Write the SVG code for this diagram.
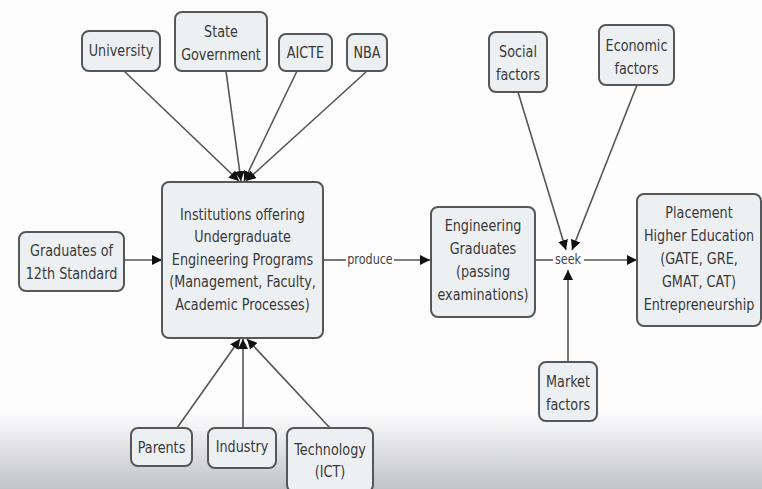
<svg xmlns="http://www.w3.org/2000/svg" width="762" height="489" viewBox="0 0 762 489">
<defs>
<linearGradient id="bg" x1="0" y1="0" x2="0" y2="1">
<stop offset="0" stop-color="#fdfdfe"/>
<stop offset="1" stop-color="#c2c3c7"/>
</linearGradient>
<marker id="ah" markerUnits="userSpaceOnUse" markerWidth="10" markerHeight="10" refX="10" refY="5" orient="auto" viewBox="0 0 10 10">
<path d="M0,0 L10,5 L0,10 z" fill="#111"/>
</marker>
<style>
.n{fill:#edf0f3;stroke:#575757;stroke-width:2}
.t{font-family:"DejaVu Sans","Liberation Sans",sans-serif;font-size:16px;fill:#383838;text-anchor:middle}
.l{font-family:"DejaVu Sans","Liberation Sans",sans-serif;font-size:14px;fill:#444;text-anchor:middle}
.c{fill:none;stroke:#555;stroke-width:1.6}
.a{marker-end:url(#ah)}
</style>
</defs>
<rect x="0" y="0" width="762" height="489" fill="#fdfdfe"/>
<rect x="0" y="412" width="762" height="77" fill="url(#bg)"/>

<g id="connectors">
<line class="c a" x1="124" y1="71" x2="239" y2="181"/>
<line class="c a" x1="226" y1="71" x2="241" y2="181"/>
<line class="c a" x1="297" y1="71" x2="244" y2="181"/>
<line class="c a" x1="366" y1="72" x2="246" y2="181"/>
<line class="c a" x1="177" y1="428" x2="240" y2="339"/>
<line class="c a" x1="243" y1="428" x2="243" y2="339"/>
<line class="c a" x1="330" y1="428" x2="247" y2="339"/>
<line class="c a" x1="124" y1="260" x2="162" y2="260"/>
<line class="c" x1="323" y1="260" x2="346" y2="260"/>
<line class="c a" x1="394" y1="260" x2="430" y2="260"/>
<text class="l" transform="translate(370 0) scale(0.8 1)" x="0" y="264">produce</text>
<line class="c" x1="535" y1="260" x2="553" y2="260"/>
<line class="c a" x1="584" y1="260" x2="637" y2="260"/>
<text class="l" transform="translate(568 0) scale(0.8 1)" x="0" y="264" fill="#666">seek</text>
<line class="c a" x1="518" y1="92" x2="566" y2="250"/>
<line class="c a" x1="637" y1="85" x2="572" y2="250"/>
<line class="c a" x1="568" y1="362" x2="568" y2="270"/>
</g>

<g id="university">
<rect class="n" x="82" y="31" width="78" height="40" rx="7"/>
<text class="t" transform="translate(121 0) scale(0.8 1)"><tspan x="0" y="56">University</tspan></text>
</g>
<g id="state-government">
<rect class="n" x="175" y="12" width="92" height="59" rx="7"/>
<text class="t" transform="translate(221 0) scale(0.8 1)"><tspan x="0" y="37">State</tspan><tspan x="0" y="60">Government</tspan></text>
</g>
<g id="aicte">
<rect class="n" x="279" y="34" width="53" height="37" rx="7"/>
<text class="t" transform="translate(305.5 0) scale(0.8 1)"><tspan x="0" y="58">AICTE</tspan></text>
</g>
<g id="nba">
<rect class="n" x="347" y="34" width="40" height="37" rx="7"/>
<text class="t" transform="translate(367 0) scale(0.8 1)"><tspan x="0" y="58">NBA</tspan></text>
</g>
<g id="institutions">
<rect class="n" x="162" y="182" width="161" height="156" rx="7"/>
<text class="t" transform="translate(242.5 0) scale(0.8 1)"><tspan x="0" y="220">Institutions offering</tspan><tspan x="0" y="242.5">Undergraduate</tspan><tspan x="0" y="265">Engineering Programs</tspan><tspan x="0" y="287.5">(Management, Faculty,</tspan><tspan x="0" y="310">Academic Processes)</tspan></text>
</g>
<g id="graduates-12th">
<rect class="n" x="19" y="232" width="105" height="59" rx="7"/>
<text class="t" transform="translate(71.5 0) scale(0.8 1)"><tspan x="0" y="256">Graduates of</tspan><tspan x="0" y="279">12th Standard</tspan></text>
</g>
<g id="engineering-graduates">
<rect class="n" x="431" y="207" width="104" height="110" rx="7"/>
<text class="t" transform="translate(483 0) scale(0.8 1)"><tspan x="0" y="231">Engineering</tspan><tspan x="0" y="254">Graduates</tspan><tspan x="0" y="277">(passing</tspan><tspan x="0" y="300">examinations)</tspan></text>
</g>
<g id="placement">
<rect class="n" x="637" y="194" width="124" height="132" rx="7"/>
<text class="t" transform="translate(699 0) scale(0.8 1)"><tspan x="0" y="218">Placement</tspan><tspan x="0" y="241">Higher Education</tspan><tspan x="0" y="264">(GATE, GRE,</tspan><tspan x="0" y="287">GMAT, CAT)</tspan><tspan x="0" y="310">Entrepreneurship</tspan></text>
</g>
<g id="social-factors">
<rect class="n" x="489" y="32" width="58" height="60" rx="7"/>
<text class="t" transform="translate(518 0) scale(0.8 1)"><tspan x="0" y="57">Social</tspan><tspan x="0" y="80">factors</tspan></text>
</g>
<g id="economic-factors">
<rect class="n" x="599" y="25" width="75" height="60" rx="7"/>
<text class="t" transform="translate(636.5 0) scale(0.8 1)"><tspan x="0" y="51">Economic</tspan><tspan x="0" y="74">factors</tspan></text>
</g>
<g id="market-factors">
<rect class="n" x="539" y="362" width="58" height="59" rx="7"/>
<text class="t" transform="translate(568 0) scale(0.8 1)"><tspan x="0" y="387">Market</tspan><tspan x="0" y="410">factors</tspan></text>
</g>
<g id="parents">
<rect class="n" x="131" y="428" width="61" height="38" rx="7"/>
<text class="t" transform="translate(161.5 0) scale(0.8 1)"><tspan x="0" y="453">Parents</tspan></text>
</g>
<g id="industry">
<rect class="n" x="208" y="428" width="68" height="40" rx="7"/>
<text class="t" transform="translate(242 0) scale(0.8 1)"><tspan x="0" y="452">Industry</tspan></text>
</g>
<g id="technology">
<rect class="n" x="287" y="428" width="86" height="64" rx="7"/>
<text class="t" transform="translate(330 0) scale(0.8 1)"><tspan x="0" y="455">Technology</tspan><tspan x="0" y="477">(ICT)</tspan></text>
</g>
</svg>
